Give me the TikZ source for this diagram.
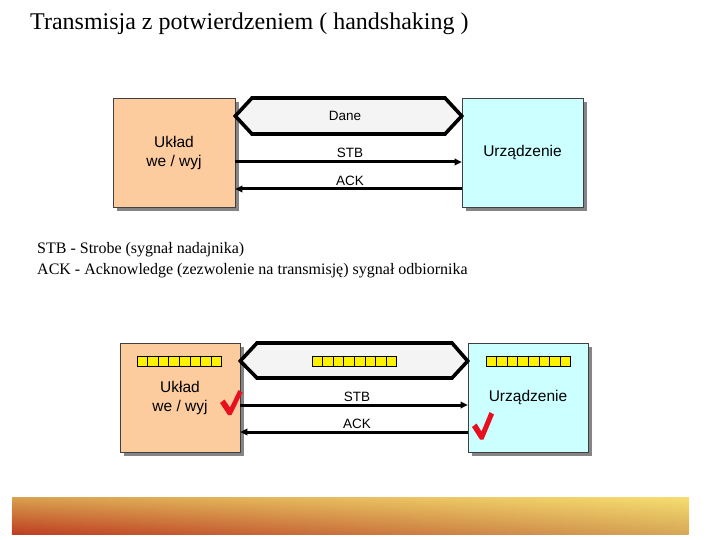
\documentclass[tikz,border=0pt]{standalone}
\usepackage{fontspec}
\setmainfont{Liberation Serif}
\newfontfamily\arialf{Liberation Sans}
\usetikzlibrary{shadows,fadings,arrows.meta}
\definecolor{peach}{HTML}{FCCB9E}
\definecolor{lcyan}{HTML}{CCFFFF}
\definecolor{hexfill}{HTML}{F4F4F4}
\definecolor{shadowgray}{HTML}{858585}
\definecolor{checkred}{HTML}{E8101E}
\definecolor{barTL}{HTML}{D9A24F}
\definecolor{barTR}{HTML}{F7DE70}
\definecolor{barBL}{HTML}{BE3E22}
\definecolor{barBR}{HTML}{D6A858}
\tikzset{
  devbox/.style={draw=black!75, line width=0.6pt, inner sep=0pt,
    minimum height=109pt, general shadow={fill=shadowgray, shadow xshift=4pt, shadow yshift=-4pt},
    font=\arialf\fontsize{15.5}{19}\selectfont, align=center},
  hexbus/.style={draw=black, line width=3.6pt, fill=hexfill, line join=miter},
  sig/.style={line width=3pt, -{Triangle[length=7pt,width=6.5pt]}},
  siglab/.style={font=\arialf\fontsize{13.5}{16}\selectfont, inner sep=0pt},
  cell/.style={draw=black, line width=0.7pt, fill=yellow},
  tick/.style={fill=checkred, draw=none}
}
\begin{document}
\begin{tikzpicture}[x=1pt,y=-1pt]
\useasboundingbox (0,0) rectangle (720,540);

% title
\node[anchor=base west, inner sep=0pt, font=\fontsize{24}{28}\selectfont] (title) at (30,30) {Transmisja z potwierdzeniem ( handshaking )};

% ---------- top diagram ----------
\node[devbox, fill=peach, minimum width=122pt] (L1) at (174,152.5) {Układ\\we / wyj};
\node[devbox, fill=lcyan, minimum width=121pt] (R1) at (522.5,152.5) {Urządzenie};
\draw[hexbus] (L1.east |- 0,116) -- (252,98) -- (445,98) -- (R1.west |- 0,116) -- (445,134) -- (252,134) -- cycle;
\node[siglab] (dane) at (345,116) {Dane};
\coordinate (stb1) at (350,162);
\coordinate (ack1) at (350,189);
\draw[sig] (L1.east |- stb1) -- (R1.west |- stb1);
\draw[sig] (R1.west |- ack1) -- (L1.east |- ack1);
\node[siglab] (stbl1) at (350,153) {STB};
\node[siglab] (ackl1) at (350,181) {ACK};

% legend
\node[anchor=base west, inner sep=0pt, font=\fontsize{16}{19}\selectfont] (leg1) at (37,253) {STB - Strobe (sygnał nadajnika)};
\node[anchor=base west, inner sep=0pt, font=\fontsize{16}{19}\selectfont] (leg2) at (37,274) {ACK - Acknowledge (zezwolenie na transmisję) sygnał odbiornika};

% ---------- bottom diagram ----------
\node[devbox, fill=peach, minimum width=120pt] (L2) at (180,397.5) {Układ\\we / wyj};
\node[devbox, fill=lcyan, minimum width=120pt] (R2) at (528,397.5) {Urządzenie};
\draw[hexbus] (L2.east |- 0,361) -- (257,343) -- (452,343) -- (R2.west |- 0,361) -- (452,378) -- (257,378) -- cycle;
\foreach \xs in {137,312,486}{
  \foreach \i in {0,...,7}{
    \draw[cell] ({\xs+\i*10.6},356) rectangle ++(10.6,10);
  }
}
\coordinate (stb2) at (357,405);
\coordinate (ack2) at (357,432);
\draw[sig] (L2.east |- stb2) -- (R2.west |- stb2);
\draw[sig] (R2.west |- ack2) -- (L2.east |- ack2);
\node[siglab] (stbl2) at (357,397) {STB};
\node[siglab] (ackl2) at (357,424) {ACK};

% check marks
\fill[tick] (220,403) -- (224.5,399.5) -- (230,407.5) -- (238.5,390) -- (242.5,392.5) -- (231.5,415) -- (228,415) -- cycle;
\fill[tick] (472,427) -- (476.5,423.5) -- (481.5,431.5) -- (489.5,412) -- (494,414.5) -- (483.5,439.5) -- (480,439.5) -- cycle;

% bottom gradient bar
\shade[left color=barTL, right color=barTR] (12,497) rectangle (689,534);
\shade[left color=barBL, right color=barBR, path fading=north] (12,497) rectangle (689,534);
\end{tikzpicture}
\end{document}
